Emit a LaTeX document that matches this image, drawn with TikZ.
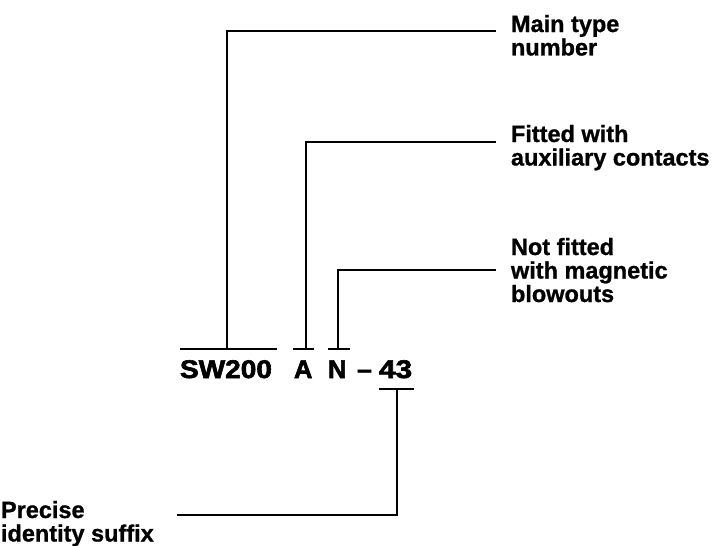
\documentclass[tikz,border=0pt]{standalone}
\usepackage{fontspec}
\setmainfont{Liberation Sans}
\newfontfamily\lblfont{Liberation Sans Bold}[FakeBold=1]
\newfontfamily\codefont{Liberation Sans Bold}[FakeBold=2.2]
\tikzset{
  lbl/.style={inner sep=0pt, outer sep=0pt, align=left, anchor=base west,
    font=\lblfont\fontsize{23.5}{23.5}\selectfont},
  code/.style={inner sep=0pt, outer sep=0pt, anchor=base west,
    font=\codefont\fontsize{25.5}{25.5}\selectfont},
  ln/.style={line width=2.9pt, line cap=rect, line join=miter}
}
\begin{document}
\begin{tikzpicture}[x=1pt,y=-1pt]
\useasboundingbox (0,0) rectangle (716,546);
% code text
\node[code] (sw) at (180,378) {\scalebox{1.1}[1]{SW200}};
\node[code] (a) at (294,378) {A};
\node[code] (n) at (328,378) {N};
\node[code] (dash) at (357,378) {\scalebox{1.05}[1]{–}};
\node[code] (num) at (379,378) {\scalebox{1.17}[1]{43}};
% labels (anchor is the baseline of the last line)
\node[lbl] (l1) at (511,55.5) {Main type\\number};
\node[lbl] (l2) at (511,165.5) {Fitted with\\auxiliary contacts};
\node[lbl] (l3) at (511,302) {Not fitted\\with magnetic\\blowouts};
\node[lbl] (l4) at (1,541.5) {Precise\\identity suffix};
% bar coordinates
\coordinate (swL) at (181,349); \coordinate (swR) at (276,349); \coordinate (swM) at (227,349);
\coordinate (aL) at (294,349); \coordinate (aR) at (313,349); \coordinate (aM) at (306,349);
\coordinate (nL) at (329,349); \coordinate (nR) at (349,349); \coordinate (nM) at (338,349);
\coordinate (qL) at (380,389); \coordinate (qR) at (413,389); \coordinate (qM) at (397,389);
\coordinate (e1) at (495,31); \coordinate (e2) at (495,142); \coordinate (e3) at (495,270);
\coordinate (e4) at (178,515);
% connectors
\draw[ln] (swL) -- (swR);
\draw[ln] (swM) |- (e1);
\draw[ln] (aL) -- (aR);
\draw[ln] (aM) |- (e2);
\draw[ln] (nL) -- (nR);
\draw[ln] (nM) |- (e3);
\draw[ln] (qL) -- (qR);
\draw[ln] (qM) |- (e4);
\end{tikzpicture}
\end{document}
